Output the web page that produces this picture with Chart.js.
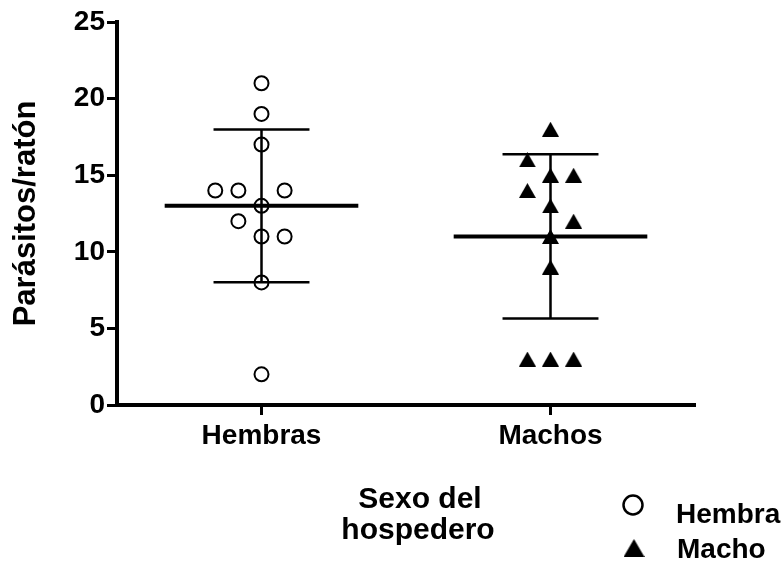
<!DOCTYPE html>
<html lang="es">
<head>
<meta charset="utf-8">
<title>Parásitos por ratón según sexo del hospedero</title>
<script src="https://cdn.jsdelivr.net/npm/chart.js@4/dist/chart.umd.min.js"></script>
<style>
  html, body { margin: 0; padding: 0; background: #fff; }
  #wrap { width: 784px; height: 576px; position: relative; }
</style>
</head>
<body>
<div id="wrap"><canvas id="chart" width="784" height="576"></canvas></div>
<script>
// Grupos del eje x
const groups = ['Hembras', 'Machos'];

// Parásitos contados por ratón en cada grupo
const hembrasValues = [21, 19, 17, 14, 14, 14, 13, 12, 11, 11, 8, 2];
const machosValues  = [18, 16, 15, 15, 14, 13, 12, 11, 9, 3, 3, 3];

// Columna de cada punto dentro del grupo (separa los valores repetidos)
const hembrasColumns = [0, 0, 0, -2, -1, 1, 0, -1, 0, 1, 0, 0];
const machosColumns  = [0, -1, 0, 1, -1, 0, 1, 0, 0, -1, 0, 1];

// Etiquetas de la leyenda y de los ejes
const legendLabels = ['Hembra', 'Macho'];
const yTicks = [0, 5, 10, 15, 20, 25];
const yTitle = 'Parásitos/ratón';
const xTitle = ['Sexo del', 'hospedero'];

// ---- estilo ----
const FONT = '"Liberation Sans", Arial, Helvetica, sans-serif';
const COLUMN_STEP = 0.08;   // separación horizontal entre columnas de puntos
const MEAN_HALF = 0.335;    // media anchura de la línea de la media
const CAP_HALF = 0.166;     // media anchura de los topes de la desviación

function mean(a) { return a.reduce((s, v) => s + v, 0) / a.length; }
function sd(a) {
  const m = mean(a);
  return Math.sqrt(a.reduce((s, v) => s + (v - m) * (v - m), 0) / (a.length - 1));
}

function toPoints(values, columns, g) {
  return values.map((v, i) => ({ x: g + columns[i] * COLUMN_STEP, y: v }));
}

// Triángulo relleno centrado en su caja (se usa como símbolo de los machos)
function triangleSymbol(w, h) {
  const c = document.createElement('canvas');
  c.width = w; c.height = h;
  const g = c.getContext('2d');
  g.fillStyle = '#000';
  g.beginPath();
  g.moveTo(w / 2, 0);
  g.lineTo(w, h);
  g.lineTo(0, h);
  g.closePath();
  g.fill();
  return c;
}
const triMarker = triangleSymbol(17, 15);
const triLegend = triangleSymbol(21, 18);

const allGroups = [hembrasValues, machosValues];
const meanSegments = [];
const sdSegments = [];
allGroups.forEach((vals, i) => {
  const g = i + 1, m = mean(vals), s = sd(vals);
  meanSegments.push({ x: g - MEAN_HALF, y: m }, { x: g + MEAN_HALF, y: m }, { x: g, y: null });
  sdSegments.push(
    { x: g, y: m - s }, { x: g, y: m + s }, { x: g, y: null },
    { x: g - CAP_HALF, y: m + s }, { x: g + CAP_HALF, y: m + s }, { x: g, y: null },
    { x: g - CAP_HALF, y: m - s }, { x: g + CAP_HALF, y: m - s }, { x: g, y: null }
  );
});

// Título del eje x en dos líneas y leyenda con los símbolos de cada serie
const sideNotes = {
  id: 'sideNotes',
  afterDraw(chart) {
    const ctx = chart.ctx;
    ctx.save();
    ctx.fillStyle = '#000';
    ctx.textBaseline = 'alphabetic';
    ctx.font = 'bold 30px ' + FONT;
    ctx.textAlign = 'center';
    ctx.fillText(xTitle[0], 420, 508);
    ctx.fillText(xTitle[1], 418, 539);

    const ds = chart.data.datasets;
    // círculo abierto
    ctx.lineWidth = 2.5;
    ctx.strokeStyle = '#000';
    ctx.beginPath();
    ctx.arc(633, 505, 9.5, 0, Math.PI * 2);
    ctx.stroke();
    // triángulo relleno
    ctx.drawImage(triLegend, 634 - triLegend.width / 2, 548 - triLegend.height / 2);

    ctx.textAlign = 'left';
    ctx.font = 'bold 28px ' + FONT;
    ctx.fillText(ds[0].label, 676, 523);
    ctx.fillText(ds[1].label, 677, 558);
    ctx.restore();
  }
};

new Chart(document.getElementById('chart'), {
  type: 'scatter',
  data: {
    datasets: [
      {
        label: legendLabels[0],
        data: toPoints(hembrasValues, hembrasColumns, 1),
        pointStyle: 'circle',
        pointRadius: 7,
        borderWidth: 2,
        borderColor: '#000',
        backgroundColor: 'rgba(0,0,0,0)',
        order: 0
      },
      {
        label: legendLabels[1],
        data: toPoints(machosValues, machosColumns, 2),
        pointStyle: triMarker,
        pointRadius: 9,
        borderColor: '#000',
        backgroundColor: '#000',
        order: 0
      },
      {
        type: 'line',
        label: 'media',
        data: meanSegments,
        borderColor: '#000',
        borderWidth: 4,
        pointRadius: 0,
        spanGaps: false,
        fill: false,
        order: 1
      },
      {
        type: 'line',
        label: 'desviación',
        data: sdSegments,
        borderColor: '#000',
        borderWidth: 2.5,
        pointRadius: 0,
        spanGaps: false,
        fill: false,
        order: 1
      }
    ]
  },
  options: {
    responsive: false,
    animation: false,
    layout: { padding: { top: 22, right: 89, bottom: 0, left: 0 } },
    plugins: {
      legend: { display: false },
      tooltip: { enabled: false }
    },
    scales: {
      x: {
        type: 'linear',
        min: 0.5,
        max: 2.5,
        afterBuildTicks: (axis) => { axis.ticks = groups.map((_, i) => ({ value: i + 1 })); },
        afterFit: (axis) => { axis.height = 171; },
        ticks: {
          autoSkip: false,
          maxRotation: 0,
          padding: 4,
          color: '#000',
          font: { family: FONT, size: 28, weight: 'bold' },
          callback: (v) => groups[Math.round(v) - 1]
        },
        grid: { drawOnChartArea: false, drawTicks: true, tickLength: 10, tickWidth: 3, tickColor: '#000' },
        border: { display: true, color: '#000', width: 4 }
      },
      y: {
        min: yTicks[0],
        max: yTicks[yTicks.length - 1],
        afterBuildTicks: (axis) => { axis.ticks = yTicks.map(v => ({ value: v })); },
        afterFit: (axis) => { axis.width = 117; },
        ticks: {
          padding: 2,
          color: '#000',
          font: { family: FONT, size: 28, weight: 'bold' }
        },
        grid: { drawOnChartArea: false, drawTicks: true, tickLength: 10, tickWidth: 3, tickColor: '#000' },
        border: { display: true, color: '#000', width: 4 },
        title: {
          display: true,
          text: yTitle,
          color: '#000',
          font: { family: FONT, size: 31, weight: 'bold' },
          padding: { top: 8, bottom: 0 }
        }
      }
    }
  },
  plugins: [sideNotes]
});
</script>
</body>
</html>
